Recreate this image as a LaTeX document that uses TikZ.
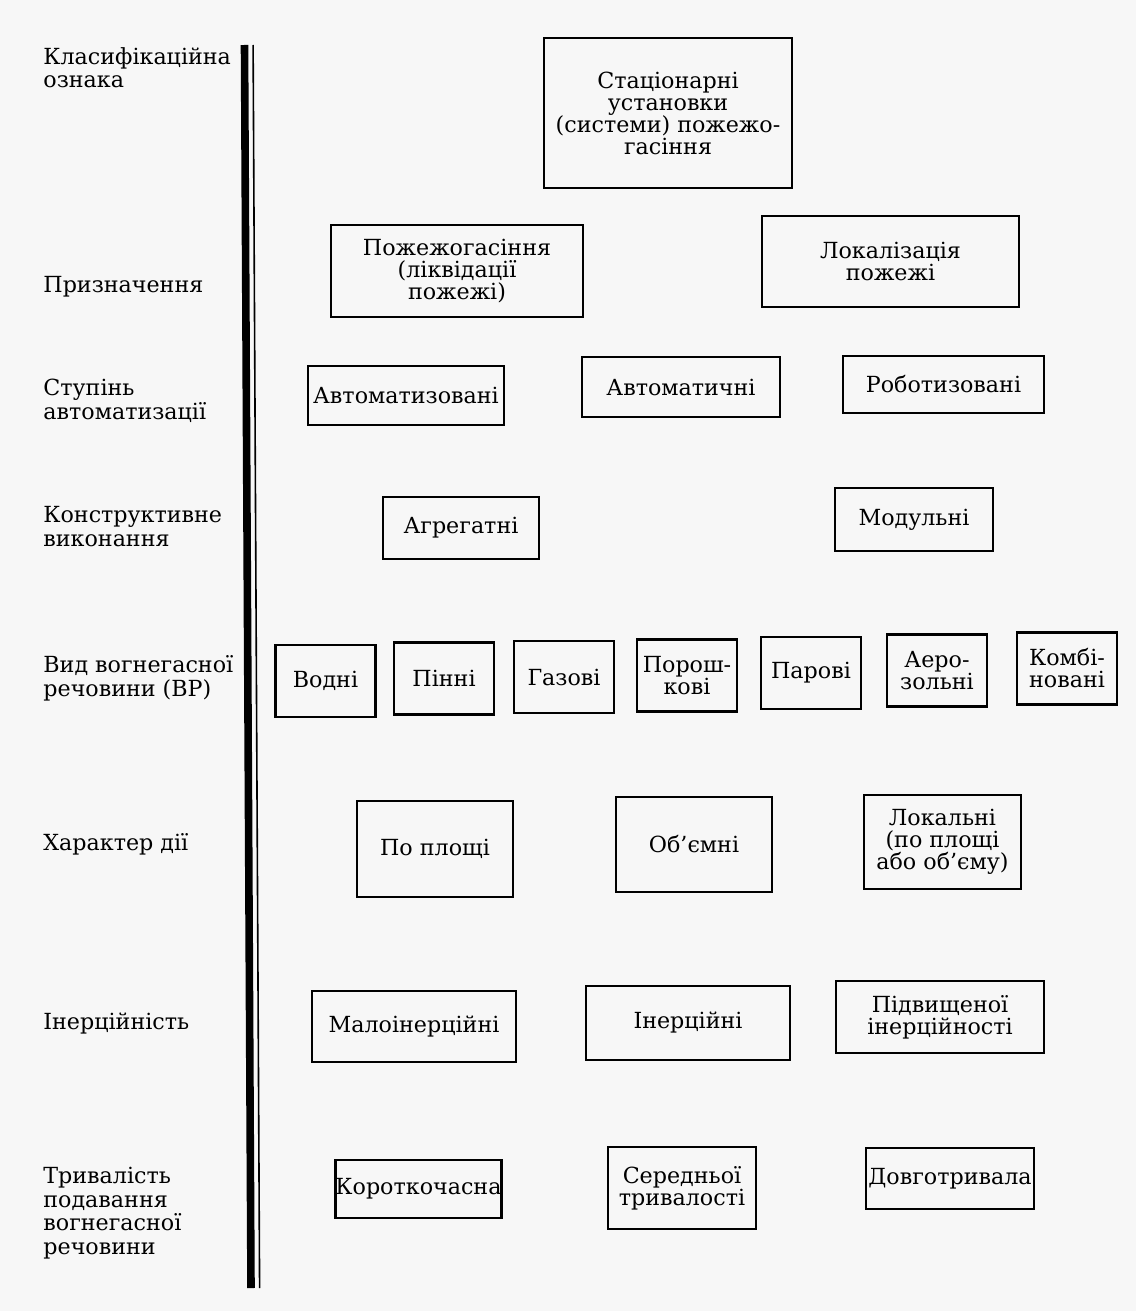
\documentclass[tikz,border=0pt]{standalone}
\usepackage{fontspec}
\setmainfont{DejaVu Serif}
\usepackage{tikz}
\usetikzlibrary{positioning}

\tikzset{
  catbox/.style={draw, line width=1.3pt, align=center, inner sep=0pt,
    font=\fontsize{11.1}{11}\selectfont},
  catlabel/.style={anchor=base west, align=left, inner sep=0pt,
    font=\fontsize{11.1}{11.75}\selectfont}
}
% box by centre and size (pixels)
\newcommand{\catbox}[6]{
  \node[catbox, minimum width=#4*0.5pt, minimum height=#5*0.5pt] (#1) at (#2,#3) {#6};
}

\begin{document}
\begin{tikzpicture}[x=0.5pt, y=-0.5pt]
\fill[black!3] (0,0) rectangle (1136,1311);
\useasboundingbox (0,0) rectangle (1136,1311);

% the rule between signs and kinds
\coordinate (rtop) at (244.5,45);
\coordinate (rbot) at (251,1288);
\draw[line width=3.8pt] (rtop) -- (rbot);
\draw[line width=0.8pt] ([xshift=4.3pt]rtop) -- ([xshift=4.3pt]rbot);

% signs of classification (placed by the baseline of the last line)
\node[catlabel] (sign) at (43,88) {Класифікаційна\\ознака};
\node[catlabel] (purpose) at (43,292) {Призначення};
\node[catlabel] (auto) at (43,419) {Ступінь\\автоматизації};
\node[catlabel] (design) at (43,546) {Конструктивне\\виконання};
\node[catlabel] (agent) at (43,696) {Вид вогнегасної\\речовини (ВР)};
\node[catlabel] (action) at (43,850) {Характер дії};
\node[catlabel] (inertia) at (43,1029) {Інерційність};
\node[catlabel] (duration) at (43,1254) {Тривалість\\подавання\\вогнегасної\\речовини};

\catbox{root}{668}{113}{248}{150}{Стаціонарні\\установки\\(системи) пожежо-\\гасіння}

\catbox{extin}{457}{271}{252}{92}{Пожежогасіння\\(ліквідації\\пожежі)}
\catbox{local}{890.5}{261.5}{257}{91}{Локалізація\\пожежі}

\catbox{automd}{406}{395.5}{196}{59}{Автоматизовані}
\catbox{autom}{681}{387}{198}{60}{Автоматичні}
\catbox{robot}{943.5}{384.5}{201}{57}{Роботизовані}

\catbox{aggr}{461}{528}{156}{62}{Агрегатні}
\catbox{modul}{914}{519.5}{158}{63}{Модульні}

% kinds of agent
\foreach \name/\cx/\cy/\txt in {
    water/325.5/681/{Водні},
    foam/444/678.5/{Пінні},
    gas/564/677/{Газові},
    powder/687/675.5/{Порош-\\кові},
    steam/811/673/{Парові},
    aero/937/670.5/{Аеро-\\зольні},
    comb/1067/668.5/{Комбі-\\новані}} {
  \catbox{\name}{\cx}{\cy}{100}{72}{\txt}
}

\catbox{area}{435}{849}{156}{96}{По площі}
\catbox{volume}{694}{844.5}{156}{95}{Об’ємні}
\catbox{locl}{942.5}{842}{157}{94}{Локальні\\(по площі\\або об’єму)}

\catbox{lowin}{414}{1026.5}{204}{71}{Малоінерційні}
\catbox{inert}{688}{1023}{204}{74}{Інерційні}
\catbox{highin}{940}{1017}{208}{72}{Підвищеної\\інерційності}

\catbox{short}{418.5}{1189}{163}{58}{Короткочасна}
\catbox{medium}{682}{1188}{148}{82}{Середньої\\тривалості}
\catbox{long}{950}{1178.5}{168}{61}{Довготривала}
\end{tikzpicture}
\end{document}
